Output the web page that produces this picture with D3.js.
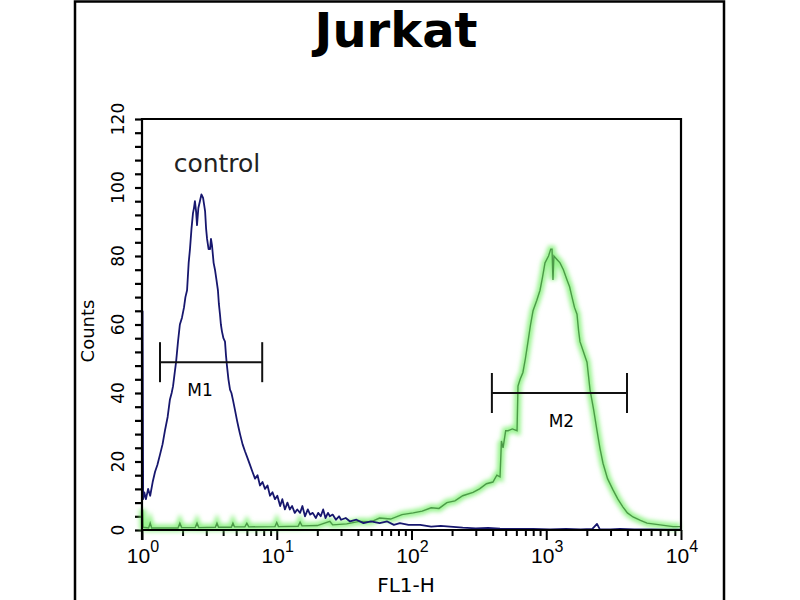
<!DOCTYPE html>
<html>
<head>
<meta charset="utf-8">
<script src="https://cdn.jsdelivr.net/npm/d3@7"></script>
<style>
  body { margin: 0; background: #fff; }
  svg { display: block; }
</style>
</head>
<body>
<div id="chart"></div>
<script>
// control histogram (blue) : FL1-H value, counts
var ctrlFL = [1.01, 1.02, 1.04, 1.07, 1.11, 1.15, 1.20, 1.25, 1.30, 1.36, 1.42, 1.48, 1.55, 1.61, 1.66, 1.70, 1.75, 1.79, 1.85, 1.91,
  1.98, 2.05, 2.10, 2.16, 2.22, 2.27, 2.33, 2.39, 2.43, 2.47, 2.52, 2.56, 2.62, 2.69, 2.76, 2.84, 2.89, 2.94, 2.99, 3.04,
  3.12, 3.20, 3.25, 3.31, 3.40, 3.48, 3.57, 3.66, 3.72, 3.79, 3.85, 3.92, 4.02, 4.13, 4.20, 4.27, 4.38, 4.50, 4.61, 4.73,
  4.90, 5.07, 5.20, 5.34, 5.58, 5.81, 6.07, 6.33, 6.60, 6.90, 7.20, 7.51, 7.84, 8.18, 8.54, 8.91, 9.30, 9.70, 10.1, 10.6,
  11.0, 11.5, 12.0, 12.5, 13.0, 13.6, 14.2, 14.9, 15.5, 16.2, 17.0, 17.7, 18.5, 19.5, 20.3, 21.2, 22.1, 23.0, 24.0, 24.8,
  26.0, 27.5, 29.0, 30.0, 32.5, 35.0, 39, 44, 50, 58, 66, 74, 82, 95, 116, 140, 165, 193, 240, 300,
  370, 454, 600, 800, 1067, 1400, 1800, 2200, 2380, 2500, 3000, 3527, 4500, 6000, 8000, 10000];
var ctrlCounts = [64, 9, 11, 9, 12, 10, 14, 17, 19, 22, 25, 29, 33, 38, 40, 42, 46, 49, 55, 60,
  62, 65, 68, 70, 78, 82, 88, 92.5, 94, 96, 93, 89, 94, 96, 98, 97, 95, 93, 88, 85,
  82, 82, 85, 83, 78, 76, 73, 70, 66, 63, 60, 58, 56, 55, 51, 48, 44, 41, 40, 38,
  35, 32, 30, 28, 25, 23, 21, 19, 17, 15, 16, 13, 14, 12, 13, 10, 11, 9, 10, 7,
  9, 6, 8, 6, 7, 5, 6, 5, 7, 4, 6, 4.5, 5, 3.5, 5, 4, 6, 3.5, 5, 4,
  4.5, 3, 4, 3, 3.5, 2.5, 3, 2, 2.5, 2, 2.5, 1.5, 2, 1.5, 1.5, 1, 1.2, 1, 0.7, 0.5,
  0.6, 0.4, 0.3, 0.3, 0.2, 0.3, 0.2, 0.3, 1.8, 0.2, 0.2, 0.3, 0.2, 0.2, 0.1, 0.1];

// stained histogram (green)
var stainFL = [1.01, 1.02, 1.12, 1.15, 1.18, 1.85, 1.91, 1.97, 2.48, 2.56, 2.64, 3.5, 3.6, 3.7, 4.6, 4.73, 4.86, 5.8, 6.0, 6.2,
  9.7, 10.0, 10.3, 14.4, 14.9, 15.4, 20, 24.8, 26, 33, 41, 50, 58, 70, 85, 103, 120, 140, 160, 183,
  210, 240, 286, 320, 360, 402, 430, 454, 465, 478, 500, 520, 560, 607, 617, 640, 671, 700, 732, 765,
  798, 850, 899, 940, 979, 1040, 1080, 1104, 1115, 1122, 1140, 1200, 1265, 1340, 1426, 1490, 1553, 1620, 1691, 1740,
  1780, 1890, 2006, 2112, 2250, 2380, 2500, 2637, 2850, 3128, 3400, 3712, 4000, 4405, 5000, 5597, 7000, 8725, 9836];
var stainCounts = [6, 0.8, 0.6, 2, 0.6, 0.6, 2, 0.7, 0.7, 2, 0.7, 0.8, 2, 0.8, 0.8, 2, 0.9, 0.9, 2, 0.9,
  1, 2.2, 1, 1.1, 2.3, 1.2, 1.3, 2.5, 1.5, 1.8, 2.5, 2.4, 3.5, 3.2, 4.5, 5, 5.5, 6.5, 6.3, 8,
  8.5, 10, 11, 12, 13.5, 14, 16, 15.5, 26, 24, 29, 29, 29.5, 29, 42, 44, 46, 50, 55, 60,
  64, 67, 70, 74, 78, 80, 82, 82, 76, 73, 80, 79, 78, 76, 73, 71, 68, 65, 63, 58,
  55, 52, 49, 41, 35, 29, 24, 19.5, 15, 11.7, 9, 6.7, 5, 3.8, 2.8, 2, 1.5, 1, 1];

// markers: gate range on FL1-H and count level of the bar
var markerNames = ["M1", "M2"];
var markerFrom = [1.36, 395];
var markerTo = [7.8, 3975];
var markerLevel = [49, 40];

var xDecades = [1, 10, 100, 1000, 10000];
var xExponents = ["0", "1", "2", "3", "4"];
var yTickLabels = [0, 20, 40, 60, 80, 100, 120];

var W = 800, H = 600;
var plot = { left: 142, right: 681, top: 119, bottom: 530 };

var svg = d3.select("#chart").append("svg")
  .attr("width", W).attr("height", H);

var defs = svg.append("defs");
defs.append("filter").attr("id", "glow")
  .attr("x", "-5%").attr("y", "-5%").attr("width", "110%").attr("height", "110%")
  .append("feGaussianBlur").attr("stdDeviation", 2);

// outer frame (open at the bottom)
svg.append("path")
  .attr("d", "M75,605 L75,1.5 L724,1.5 L724,605")
  .attr("fill", "none").attr("stroke", "#000").attr("stroke-width", 2.5);

svg.append("text")
  .attr("x", 396).attr("y", 47)
  .attr("text-anchor", "middle")
  .style("font-family", "'DejaVu Sans', sans-serif")
  .style("font-weight", "bold")
  .style("font-size", "48px")
  .text("Jurkat");

var x = d3.scaleLog().domain([1, 10000]).range([plot.left, plot.right]);
var y = d3.scaleLinear().domain([0, 120]).range([plot.bottom, plot.top]);

// x ticks
var minor = [];
[1, 10, 100, 1000].forEach(function (d) {
  for (var k = 2; k <= 9; k++) minor.push(k * d);
});
svg.append("g")
  .attr("transform", "translate(0," + plot.bottom + ")")
  .call(d3.axisBottom(x).tickValues(minor).tickSize(6).tickSizeOuter(0).tickFormat(""))
  .call(function (g) { g.select(".domain").remove(); })
  .selectAll("line").attr("stroke", "#000").attr("stroke-width", 2);
svg.append("g")
  .attr("transform", "translate(0," + plot.bottom + ")")
  .call(d3.axisBottom(x).tickValues(xDecades).tickSize(10).tickSizeOuter(0).tickFormat(""))
  .call(function (g) { g.select(".domain").remove(); })
  .selectAll("line").attr("stroke", "#000").attr("stroke-width", 2);

var xl = svg.append("g").selectAll("text")
  .data(xDecades)
  .enter().append("text")
  .attr("x", function (d) { return x(d) + 1; })
  .attr("y", 563)
  .attr("text-anchor", "middle")
  .style("font-family", "'Liberation Sans', Arial, sans-serif")
  .style("font-size", "21px");
xl.append("tspan").text("10");
xl.append("tspan")
  .attr("dy", -11)
  .style("font-size", "16px")
  .text(function (d, i) { return xExponents[i]; });

// y ticks
svg.append("g")
  .attr("transform", "translate(" + plot.left + ",0)")
  .call(d3.axisLeft(y).tickValues(d3.range(0, 121, 4)).tickSize(7).tickSizeOuter(0).tickFormat(""))
  .call(function (g) { g.select(".domain").remove(); })
  .selectAll("line").attr("stroke", "#000").attr("stroke-width", 2.2);

svg.append("g").selectAll("text")
  .data(yTickLabels)
  .enter().append("text")
  .attr("transform", function (d) { return "translate(124," + y(d) + ") rotate(-90)"; })
  .attr("text-anchor", "middle")
  .style("font-family", "'DejaVu Sans', sans-serif")
  .style("font-size", "17px")
  .text(function (d) { return d; });

svg.append("text")
  .attr("transform", "translate(94,331) rotate(-90)")
  .attr("text-anchor", "middle")
  .style("font-family", "'DejaVu Sans', sans-serif")
  .style("font-size", "18px")
  .text("Counts");

svg.append("text")
  .attr("x", 406).attr("y", 592)
  .attr("text-anchor", "middle")
  .style("font-family", "'DejaVu Sans', sans-serif")
  .style("font-size", "20px")
  .text("FL1-H");

// histograms
var line = d3.line()
  .x(function (d) { return x(d[0]); })
  .y(function (d) { return y(d[1]); });

var stain = d3.zip(stainFL, stainCounts);
var ctrl = d3.zip(ctrlFL, ctrlCounts);

svg.append("path")
  .datum(stain)
  .attr("d", line)
  .attr("fill", "none")
  .attr("stroke", "#7cf070")
  .attr("stroke-width", 7)
  .attr("stroke-opacity", 0.8)
  .attr("filter", "url(#glow)");
svg.append("path")
  .datum(stain)
  .attr("d", line)
  .attr("fill", "none")
  .attr("stroke", "#4c9a48")
  .attr("stroke-width", 1.4);

svg.append("path")
  .datum(ctrl)
  .attr("d", line)
  .attr("fill", "none")
  .attr("stroke", "#17176e")
  .attr("stroke-width", 1.8)
  .attr("stroke-linejoin", "round");

// plot frame
svg.append("path")
  .attr("d", "M" + plot.left + "," + (plot.bottom + 10) + " L" + plot.left + "," + plot.top +
    " L" + plot.right + "," + plot.top + " L" + plot.right + "," + plot.bottom + " L" + plot.left + "," + plot.bottom)
  .attr("fill", "none").attr("stroke", "#000").attr("stroke-width", 2.2);

// control label
svg.append("text")
  .attr("x", 217).attr("y", 172)
  .attr("text-anchor", "middle")
  .style("font-family", "'DejaVu Sans', sans-serif")
  .style("font-size", "25px")
  .attr("fill", "#222")
  .text("control");

// markers
markerNames.forEach(function (name, i) {
  var g = svg.append("g").attr("stroke", "#111").attr("stroke-width", 2);
  var x0 = x(markerFrom[i]), x1 = x(markerTo[i]), yy = y(markerLevel[i]);
  g.append("line").attr("x1", x0).attr("x2", x1).attr("y1", yy).attr("y2", yy);
  g.append("line").attr("x1", x0).attr("x2", x0).attr("y1", yy - 20).attr("y2", yy + 20);
  g.append("line").attr("x1", x1).attr("x2", x1).attr("y1", yy - 20).attr("y2", yy + 20);
  svg.append("text")
    .attr("x", (x0 + x1) / 2 - (i === 0 ? 11 : -2))
    .attr("y", yy + 34)
    .attr("text-anchor", "middle")
    .style("font-family", "'DejaVu Sans', sans-serif")
    .style("font-size", "17px")
    .text(name);
});
</script>
</body>
</html>
